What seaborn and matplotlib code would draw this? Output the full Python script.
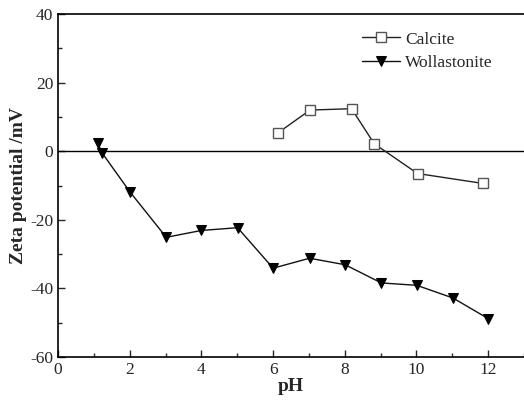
import matplotlib
matplotlib.use("Agg")
import matplotlib.pyplot as plt
from matplotlib.ticker import MultipleLocator
import seaborn as sns
import pandas as pd

calcite_ph = [6.13, 7.03, 8.19, 8.82, 10.03, 11.86]
calcite_zeta = [5.3, 12.0, 12.4, 2.2, -6.5, -9.4]
woll_ph = [1.11, 1.23, 2.01, 3.02, 4.0, 5.01, 6.0, 7.02, 8.01, 9.02, 10.01, 11.02, 12.0]
woll_zeta = [2.4, -0.5, -11.9, -25.1, -23.1, -22.3, -34.1, -31.2, -33.1, -38.4, -39.1, -42.8, -48.8]

sns.set_style("ticks")
plt.rcParams['font.family'] = ['Liberation Serif', 'DejaVu Serif']
plt.rcParams['axes.unicode_minus'] = False

fig = plt.figure(figsize=(5.24, 4.01), dpi=100)
ax = fig.add_axes([0.1107, 0.1097, 0.8893, 0.8553])

ax.axhline(0, color='black', lw=1.0, zorder=1)

df_c = pd.DataFrame({'pH': calcite_ph, 'zeta': calcite_zeta})
df_w = pd.DataFrame({'pH': woll_ph, 'zeta': woll_zeta})

sns.lineplot(data=df_c, x='pH', y='zeta', ax=ax, color='#222222', lw=1.0,
             marker='s', markersize=6.5, markerfacecolor='white',
             markeredgecolor='#555555', markeredgewidth=1.0, label='Calcite',
             sort=False, estimator=None)
sns.lineplot(data=df_w, x='pH', y='zeta', ax=ax, color='#111111', lw=1.0,
             marker='v', markersize=7.5, markerfacecolor='black',
             markeredgecolor='black', label='Wollastonite',
             sort=False, estimator=None)

ax.set_xlim(0, 13)
ax.set_ylim(-60, 40)
ax.xaxis.set_major_locator(MultipleLocator(2))
ax.xaxis.set_minor_locator(MultipleLocator(1))
ax.yaxis.set_major_locator(MultipleLocator(20))
ax.yaxis.set_minor_locator(MultipleLocator(10))
ax.set_xticks([0, 2, 4, 6, 8, 10, 12])
ax.tick_params(which='both', direction='in', top=False, right=False, labelsize=12.5, width=1.0)
ax.tick_params(which='major', length=5)
ax.tick_params(which='minor', length=3)
for s in ['left', 'bottom', 'top']:
    ax.spines[s].set_linewidth(1.2)
    ax.spines[s].set_color('black')
ax.spines['right'].set_visible(False)
ax.spines['top'].set_visible(True)

ax.set_xlabel('pH', fontsize=14, fontweight='bold', labelpad=0)
ax.set_ylabel('Zeta potential /mV', fontsize=14, fontweight='bold', labelpad=2)

leg = ax.legend(loc='upper right', bbox_to_anchor=(0.966, 0.995), frameon=False,
                fontsize=12.5, handlelength=2.2, handletextpad=0.3, labelspacing=0.4)

fig.savefig('out.png', dpi=100)
